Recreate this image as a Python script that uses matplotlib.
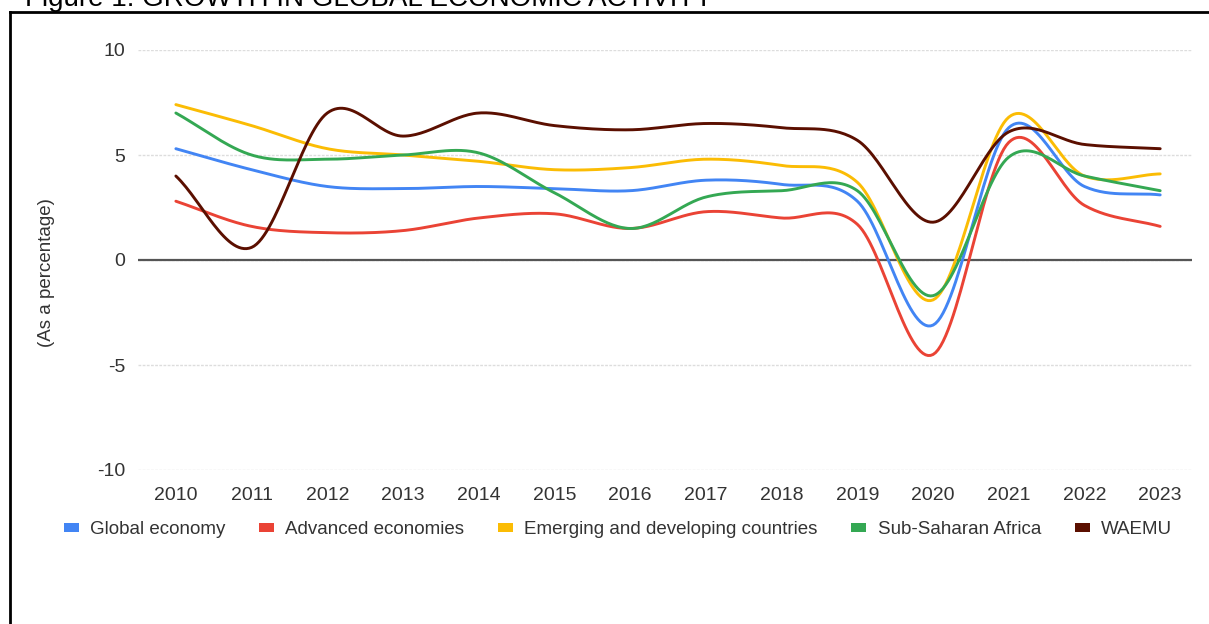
import numpy as np
import matplotlib

matplotlib.use("Agg")
import matplotlib.pyplot as plt
from matplotlib.lines import Line2D
from matplotlib.patches import Patch

plt.rcParams["font.family"] = ["Liberation Sans", "DejaVu Sans"]
plt.rcParams["axes.unicode_minus"] = False

years = [2010, 2011, 2012, 2013, 2014, 2015, 2016, 2017, 2018, 2019, 2020, 2021, 2022, 2023]
global_economy = [5.3, 4.3, 3.5, 3.4, 3.5, 3.4, 3.3, 3.8, 3.6, 2.8, -3.1, 6.3, 3.5, 3.1]
advanced = [2.8, 1.6, 1.3, 1.4, 2.0, 2.2, 1.5, 2.3, 2.0, 1.7, -4.5, 5.6, 2.6, 1.6]
emerging = [7.4, 6.4, 5.3, 5.0, 4.7, 4.3, 4.4, 4.8, 4.5, 3.7, -1.9, 6.8, 4.0, 4.1]
ssa = [7.0, 5.0, 4.8, 5.0, 5.1, 3.2, 1.5, 3.0, 3.3, 3.3, -1.7, 4.9, 4.0, 3.3]
waemu = [4.0, 0.6, 7.0, 5.9, 7.0, 6.4, 6.2, 6.5, 6.3, 5.7, 1.8, 6.1, 5.5, 5.3]

series_names = ["Global economy", "Advanced economies", "Emerging and developing countries",
                "Sub-Saharan Africa", "WAEMU"]
series_values = [global_economy, advanced, emerging, ssa, waemu]
colors = ["#4285f4", "#ea4335", "#fbbc04", "#34a853", "#5b0f00"]


def smooth(x, y, steps=30):
    """Catmull-Rom curve through the points (like the 'smooth' line option)."""
    x = np.asarray(x, float)
    y = np.asarray(y, float)
    px = np.concatenate([[2 * x[0] - x[1]], x, [2 * x[-1] - x[-2]]])
    py = np.concatenate([[2 * y[0] - y[1]], y, [2 * y[-1] - y[-2]]])
    t = np.linspace(0, 1, steps, endpoint=False)
    xs, ys = [], []
    for i in range(1, len(px) - 2):
        for p, out in ((px, xs), (py, ys)):
            p0, p1, p2, p3 = p[i - 1], p[i], p[i + 1], p[i + 2]
            out.append(0.5 * (2 * p1 + (-p0 + p2) * t
                              + (2 * p0 - 5 * p1 + 4 * p2 - p3) * t ** 2
                              + (-p0 + 3 * p1 - 3 * p2 + p3) * t ** 3))
    xs.append([x[-1]])
    ys.append([y[-1]])
    return np.concatenate(xs), np.concatenate(ys)


fig = plt.figure(figsize=(12.09, 6.24), dpi=100)
ax = fig.add_axes([138 / 1209, 1 - 470 / 624, (1192 - 138) / 1209, 420 / 624])

for vals, col in zip(series_values, colors):
    sx, sy = smooth(years, vals)
    ax.plot(sx, sy, color=col, lw=2.1, solid_capstyle="round", zorder=3)

ax.set_xlim(2009.5, 2023.42)
ax.set_ylim(-10, 10)
ax.set_yticks([-10, -5, 0, 5, 10])
ax.set_xticks(years)
ax.set_xticklabels([str(y) for y in years])
ax.grid(axis="y", color="#dddddd", lw=1, ls=(0, (2, 1)))
ax.axhline(0, color="#555555", lw=1.6, zorder=2)
for s in ax.spines.values():
    s.set_visible(False)
ax.tick_params(length=0, labelsize=14, colors="#333333")
ax.tick_params(axis="y", pad=9)
ax.tick_params(axis="x", pad=12)
ax.set_ylabel("(As a percentage)", fontsize=13.5, color="#333333")
ax.yaxis.set_label_coords(-0.079, 0.47)

# legend along the bottom
handles = [Patch(facecolor=c, edgecolor="none") for c in colors]
fig.legend(handles, series_names, loc="center", bbox_to_anchor=(0.511, 1 - 530 / 624),
           ncol=5, frameon=False, fontsize=13.5, handlelength=0.8, handleheight=0.35,
           handletextpad=0.6, columnspacing=1.8, labelcolor="#333333")

# page frame and clipped caption
fig.add_artist(Line2D([10 / 1209, 1], [1 - 12 / 624] * 2, color="black", lw=2))
fig.add_artist(Line2D([10 / 1209] * 2, [0, 1 - 12 / 624], color="black", lw=2))
fig.text(25 / 1209, 1 - 6 / 624, "Figure 1: GROWTH IN GLOBAL ECONOMIC ACTIVITY",
         fontsize=20, va="baseline", ha="left", color="black")

fig.savefig("out.png", dpi=100)
